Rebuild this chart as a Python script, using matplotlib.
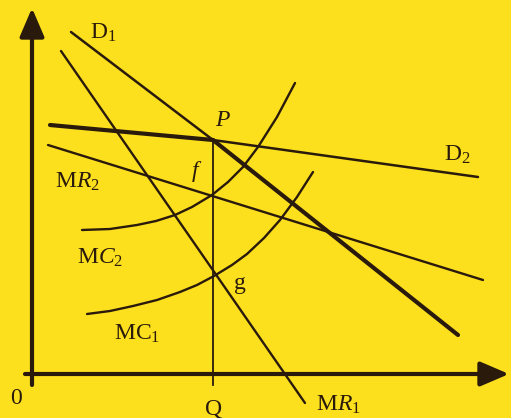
import matplotlib
matplotlib.use("Agg")
import matplotlib.pyplot as plt

plt.rcParams['mathtext.fontset'] = 'custom'
plt.rcParams['mathtext.rm'] = 'Liberation Serif'
plt.rcParams['mathtext.it'] = 'Liberation Serif:italic'
plt.rcParams['font.family'] = ['Liberation Serif', 'DejaVu Serif']

BG = '#FCE01E'
INK = '#2A1A0C'

# ---- data (quantity, price) in diagram units ----
Q = 181                      # output level
P_point = (181, 235)         # kink point P

d1_x = [39, 181, 426]        # demand D1 (upper part thin, lower part thick)
d1_y = [343, 235, 40]
d2_x = [18, 181, 446]        # demand D2 (upper part thick, lower part thin)
d2_y = [250, 235, 198]
mr1_x = [29, 273]            # MR1
mr1_y = [324, -28]
mr2_x = [16, 451]            # MR2
mr2_y = [230, 95]
mc2_x = [50, 78, 105, 124, 143, 160, 180, 196, 211, 226, 245, 263]
mc2_y = [145, 146, 150, 154, 160, 168, 180, 193, 208, 228, 258, 292]
mc1_x = [55, 78, 101, 125, 148, 165, 182, 200, 215, 232, 248, 265, 281]
mc1_y = [61, 64, 69, 75, 83, 90, 99, 110, 121, 137, 155, 178, 203]

fig = plt.figure(figsize=(5.11, 4.18), dpi=100, facecolor=BG)
ax = fig.add_axes([0, 0, 1, 1])
ax.set_facecolor(BG)
ax.set_xlim(-32, 479)
ax.set_ylim(-43, 375)
ax.axis('off')

kw = dict(color=INK, solid_capstyle='round', solid_joinstyle='round')
# D1
ax.plot(d1_x[:2], d1_y[:2], lw=1.8, **kw)
ax.plot(d1_x[1:], d1_y[1:], lw=3.0, **kw)
# D2
ax.plot(d2_x[:2], d2_y[:2], lw=3.0, **kw)
ax.plot(d2_x[1:], d2_y[1:], lw=1.8, **kw)
# MR lines
ax.plot(mr1_x, mr1_y, lw=1.7, **kw)
ax.plot(mr2_x, mr2_y, lw=1.7, **kw)
# MC curves
ax.plot(mc2_x, mc2_y, lw=1.7, **kw)
ax.plot(mc1_x, mc1_y, lw=1.7, **kw)
# vertical at Q
ax.plot([Q, Q], [P_point[1], -10], lw=1.3, color=INK)

# axes with arrows
arrow = dict(arrowstyle='-|>,head_length=0.7,head_width=0.3', lw=3.0,
             color=INK, shrinkA=0, shrinkB=0, mutation_scale=25)
ax.annotate('', xy=(0, 367), xytext=(0, -10), arrowprops=arrow)
ax.annotate('', xy=(477, 1), xytext=(-7, 1), arrowprops=arrow)

fs = 17
tk = dict(color=INK, fontsize=fs, ha='center', va='center')
ax.text(71, 342, r'$\mathrm{D}_{1}$', **tk)
ax.text(425, 220, r'$\mathrm{D}_{2}$', **tk)
ax.text(191, 254, r'$P$', **tk)
ax.text(165, 203, r'$f$', **tk)
ax.text(45, 193, r'$\mathrm{M}R_{2}$', **tk)
ax.text(68, 117, r'$\mathrm{M}C_{2}$', **tk)
ax.text(105, 41, r'$\mathrm{MC}_{1}$', **tk)
ax.text(208, 92, 'g', **tk)
ax.text(-16, -24, '0', **tk)
ax.text(182, -34, 'Q', **tk)
ax.text(306, -30, r'$\mathrm{M}R_{1}$', **tk)

fig.savefig('out.png', dpi=100, facecolor=BG)
